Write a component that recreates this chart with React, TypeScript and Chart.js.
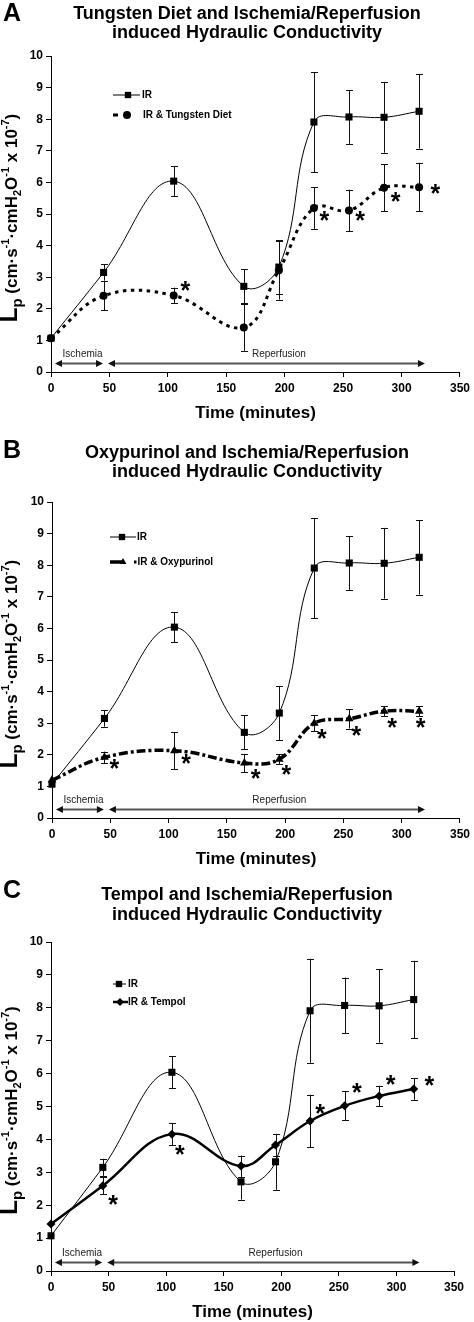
import React, { useEffect, useRef } from 'react';
import { Chart, registerables } from 'chart.js';

Chart.register(...registerables);

// ---------------- DATA ----------------
const times = [0, 45, 105, 165, 195, 225, 255, 285, 315];

const irMean = [1.07, 3.15, 6.04, 2.71, 3.32, 7.91, 8.07, 8.06, 8.25];
const irErr = [0, 0.26, 0.48, 0.54, 0.85, 1.58, 0.85, 1.12, 1.18];

const tungstenMean = [1.07, 2.41, 2.42, 1.41, 3.22, 5.19, 5.11, 5.83, 5.85];
const tungstenErr = [0, 0.46, 0.25, 0.74, 0.93, 0.66, 0.66, 0.75, 0.77];

const oxyMean = [1.2, 1.92, 2.13, 1.74, 1.86, 3.0, 3.14, 3.38, 3.38];
const oxyErr = [0, 0.18, 0.58, 0.29, 0.16, 0.25, 0.31, 0.16, 0.16];

const tempolMean = [1.43, 2.59, 4.16, 3.19, 3.83, 4.56, 5.02, 5.32, 5.53];
const tempolErr = [0, 0.26, 0.34, 0.32, 0.32, 0.8, 0.44, 0.31, 0.33];

// significance markers (x in minutes, y in Lp units)
const sigTungstenX = [115, 234, 264.5, 295, 329];
const sigTungstenY = [2.77, 5.0, 4.99, 5.58, 5.85];
const sigOxyX = [53.6, 115, 174.6, 201, 231.6, 261, 291.8, 316.3];
const sigOxyY = [1.76, 1.91, 1.44, 1.56, 2.72, 2.79, 3.05, 3.05];
const sigTempolX = [54, 112, 233.7, 265.6, 295, 328.7];
const sigTempolY = [2.21, 3.73, 4.98, 5.61, 5.84, 5.83];

const phaseLabels = ['Ischemia', 'Reperfusion'];
const phaseStart = [3.4, 48.8];
const phaseEnd = [44.5, 320];
const phaseLabelX = [27, 195];
const phaseArrowY = 0.27;
const phaseLabelY = 0.55;

const xTickStep = 50;
const xMax = 350;
const yTickStep = 1;
const yMax = 10;

const titlesA = ['Tungsten Diet and Ischemia/Reperfusion', 'induced Hydraulic Conductivity'];
const titlesB = ['Oxypurinol and Ischemia/Reperfusion', 'induced Hydraulic Conductivity'];
const titlesC = ['Tempol and Ischemia/Reperfusion', 'induced Hydraulic Conductivity'];
const xTitle = 'Time (minutes)';

// ---------------- STYLE ----------------
const FONT = '"Liberation Sans", Arial, Helvetica, sans-serif';
const W = 474;

type StyleKey = 'ir' | 'tungsten' | 'oxy' | 'tempol';
const seriesStyle: Record<StyleKey, any> = {
  ir: { borderWidth: 1, borderDash: [], pointStyle: 'rect', pointRadius: 5, tension: 0.4 },
  tungsten: { borderWidth: 3, borderDash: [3.5, 4.5], pointStyle: 'circle', pointRadius: 4, tension: 0.4 },
  oxy: { borderWidth: 3.5, borderDash: [9, 3, 3, 3], pointStyle: 'triangle', pointRadius: 5, tension: 0.4 },
  tempol: { borderWidth: 2.5, borderDash: [], pointStyle: 'rectRot', pointRadius: 4.5, tension: 0.4 },
};

type LegendItem = { label: string; style: StyleKey; line: [number, number]; mx: number; tx: number; y: number; dot?: number };

const panels = [
  {
    letter: 'A', titles: titlesA, top: 0, height: 435,
    area: { left: 51, right: 463, top: 56, bottom: 372 },
    titleY: [14, 33], letterY: 14,
    series: [
      { label: 'IR', mean: irMean, err: irErr, style: 'ir' as StyleKey },
      { label: 'IR & Tungsten Diet', mean: tungstenMean, err: tungstenErr, style: 'tungsten' as StyleKey },
    ],
    sigX: sigTungstenX, sigY: sigTungstenY,
    legend: [
      { label: 'IR', style: 'ir', line: [113, 140], mx: 128, tx: 142, y: 95 },
      { label: 'IR & Tungsten Diet', style: 'tungsten', line: [113, 118], mx: 127, tx: 143, y: 115 },
    ] as LegendItem[],
  },
  {
    letter: 'B', titles: titlesB, top: 435, height: 440,
    area: { left: 52, right: 464, top: 67, bottom: 383 },
    titleY: [18, 37], letterY: 16.5,
    series: [
      { label: 'IR', mean: irMean, err: irErr, style: 'ir' as StyleKey },
      { label: 'IR & Oxypurinol', mean: oxyMean, err: oxyErr, style: 'oxy' as StyleKey },
    ],
    sigX: sigOxyX, sigY: sigOxyY,
    legend: [
      { label: 'IR', style: 'ir', line: [110, 136], mx: 122, tx: 137, y: 102 },
      { label: 'IR & Oxypurinol', style: 'oxy', line: [110, 122], mx: 123, tx: 137.5, y: 127, dot: 135 },
    ] as LegendItem[],
  },
  {
    letter: 'C', titles: titlesC, top: 875, height: 447,
    area: { left: 51, right: 454, top: 67, bottom: 396 },
    titleY: [20, 40], letterY: 16,
    series: [
      { label: 'IR', mean: irMean, err: irErr, style: 'ir' as StyleKey },
      { label: 'IR & Tempol', mean: tempolMean, err: tempolErr, style: 'tempol' as StyleKey },
    ],
    sigX: sigTempolX, sigY: sigTempolY,
    legend: [
      { label: 'IR', style: 'ir', line: [113, 126], mx: 119, tx: 128, y: 109 },
      { label: 'IR & Tempol', style: 'tempol', line: [113, 128], mx: 120, tx: 128, y: 127 },
    ] as LegendItem[],
  },
];

// ---------------- DRAW HELPERS ----------------
function drawMarker(ctx: CanvasRenderingContext2D, style: StyleKey, x: number, y: number, r: number) {
  ctx.save();
  ctx.fillStyle = '#000';
  ctx.beginPath();
  if (style === 'ir') {
    const s = r * Math.SQRT1_2;
    ctx.rect(x - s, y - s, 2 * s, 2 * s);
  } else if (style === 'tungsten') {
    ctx.arc(x, y, r, 0, Math.PI * 2);
  } else if (style === 'oxy') {
    ctx.moveTo(x, y - r);
    ctx.lineTo(x + r * 0.87, y + r * 0.5);
    ctx.lineTo(x - r * 0.87, y + r * 0.5);
    ctx.closePath();
  } else {
    ctx.moveTo(x, y - r);
    ctx.lineTo(x + r, y);
    ctx.lineTo(x, y + r);
    ctx.lineTo(x - r, y);
    ctx.closePath();
  }
  ctx.fill();
  ctx.restore();
}

function drawYTitle(ctx: CanvasRenderingContext2D, bx: number, cy: number) {
  const parts = [
    { t: 'L', s: 24, d: 0 },
    { t: 'p', s: 15, d: 5 },
    { t: ' (cm·s', s: 17, d: 0 },
    { t: '-1', s: 11, d: -8 },
    { t: '·cmH', s: 17, d: 0 },
    { t: '2', s: 11, d: 4 },
    { t: 'O', s: 17, d: 0 },
    { t: '-1', s: 11, d: -8 },
    { t: ' x 10', s: 17, d: 0 },
    { t: '-7', s: 11, d: -8 },
    { t: ')', s: 17, d: 0 },
  ];
  ctx.save();
  ctx.translate(bx, cy);
  ctx.rotate(-Math.PI / 2);
  ctx.fillStyle = '#000';
  ctx.textBaseline = 'alphabetic';
  ctx.textAlign = 'left';
  let total = 0;
  const widths = parts.map((p) => {
    ctx.font = `bold ${p.s}px ${FONT}`;
    const w = ctx.measureText(p.t).width;
    total += w;
    return w;
  });
  let x = -total / 2;
  parts.forEach((p, i) => {
    ctx.font = `bold ${p.s}px ${FONT}`;
    ctx.fillText(p.t, x, p.d);
    x += widths[i];
  });
  ctx.restore();
}

function arrowHead(ctx: CanvasRenderingContext2D, x: number, y: number, dir: number) {
  ctx.beginPath();
  ctx.moveTo(x, y);
  ctx.lineTo(x - dir * 7, y - 3.5);
  ctx.lineTo(x - dir * 7, y + 3.5);
  ctx.closePath();
  ctx.fill();
}

const decorPlugin = {
  id: 'decor',
  beforeDatasetsDraw(chart: any) {
    const ctx: CanvasRenderingContext2D = chart.ctx;
    const yS = chart.scales.y;
    ctx.save();
    ctx.strokeStyle = '#111';
    ctx.lineWidth = 1;
    chart.data.datasets.forEach((ds: any, di: number) => {
      const meta = chart.getDatasetMeta(di);
      (ds.errors as number[]).forEach((e, i) => {
        if (!e) return;
        const pt = meta.data[i];
        const m = ds.data[i].y;
        const x = Math.round(pt.x) + 0.5;
        const y1 = yS.getPixelForValue(m + e);
        const y2 = yS.getPixelForValue(m - e);
        ctx.beginPath();
        ctx.moveTo(x, y1);
        ctx.lineTo(x, y2);
        ctx.moveTo(x - 3.5, Math.round(y1) + 0.5);
        ctx.lineTo(x + 3.5, Math.round(y1) + 0.5);
        ctx.moveTo(x - 3.5, Math.round(y2) + 0.5);
        ctx.lineTo(x + 3.5, Math.round(y2) + 0.5);
        ctx.stroke();
      });
    });
    ctx.restore();
  },
  afterDraw(chart: any, _args: any, opts: any) {
    const p = opts.panel;
    if (!p) return;
    const ctx: CanvasRenderingContext2D = chart.ctx;
    const xS = chart.scales.x;
    const yS = chart.scales.y;
    const area = chart.chartArea;
    ctx.save();
    ctx.fillStyle = '#000';

    // panel letter
    ctx.font = `bold 25px ${FONT}`;
    ctx.textAlign = 'left';
    ctx.textBaseline = 'middle';
    ctx.fillText(p.letter, 3, p.letterY);

    // titles
    ctx.font = `bold 18px ${FONT}`;
    ctx.textAlign = 'center';
    p.titles.forEach((t: string, i: number) => ctx.fillText(t, 247, p.titleY[i]));

    // x title
    ctx.font = `bold 17px ${FONT}`;
    ctx.textBaseline = 'middle';
    ctx.fillText(xTitle, (area.left + area.right) / 2, area.bottom + 41);

    // y title
    drawYTitle(ctx, 17, (area.top + area.bottom) / 2 + 4);

    // phases
    ctx.strokeStyle = '#555';
    ctx.fillStyle = '#111';
    ctx.lineWidth = 2;
    const ay = Math.round(yS.getPixelForValue(phaseArrowY)) + 0.5;
    phaseLabels.forEach((lab, i) => {
      const x1 = xS.getPixelForValue(phaseStart[i]);
      const x2 = xS.getPixelForValue(phaseEnd[i]);
      ctx.beginPath();
      ctx.moveTo(x1 + 4, ay);
      ctx.lineTo(x2 - 4, ay);
      ctx.stroke();
      arrowHead(ctx, x1, ay, -1);
      arrowHead(ctx, x2, ay, 1);
      ctx.font = `10px ${FONT}`;
      ctx.textAlign = 'center';
      ctx.textBaseline = 'middle';
      ctx.fillStyle = '#222';
      ctx.fillText(lab, xS.getPixelForValue(phaseLabelX[i]), yS.getPixelForValue(phaseLabelY));
      ctx.fillStyle = '#111';
    });

    // significance asterisks
    ctx.fillStyle = '#000';
    const as = 25;
    ctx.font = `bold ${as}px ${FONT}`;
    ctx.textAlign = 'center';
    ctx.textBaseline = 'alphabetic';
    p.sigX.forEach((sx: number, i: number) => {
      const px = xS.getPixelForValue(sx);
      const py = yS.getPixelForValue(p.sigY[i]);
      ctx.fillText('*', px, py + 0.58 * as);
    });

    // legend
    p.legend.forEach((it: LegendItem) => {
      const st = seriesStyle[it.style];
      ctx.save();
      ctx.strokeStyle = '#000';
      ctx.lineWidth = st.borderWidth;
      ctx.beginPath();
      ctx.moveTo(it.line[0], it.y);
      ctx.lineTo(it.line[1], it.y);
      ctx.stroke();
      ctx.restore();
      drawMarker(ctx, it.style, it.mx, it.y, it.style === 'ir' ? 4.5 : 4);
      if (it.dot) {
        ctx.fillRect(it.dot - 1, it.y - 1.5, 2.5, 3);
      }
      ctx.font = `bold 10px ${FONT}`;
      ctx.textAlign = 'left';
      ctx.textBaseline = 'middle';
      ctx.fillStyle = '#000';
      ctx.fillText(it.label, it.tx, it.y);
    });

    ctx.restore();
  },
};

function buildConfig(p: any): any {
  const H = p.height;
  const area = p.area;
  const datasets = p.series.map((s: any) => {
    const st = seriesStyle[s.style as StyleKey];
    return {
      label: s.label,
      data: times.map((t, i) => ({ x: t, y: s.mean[i] })),
      errors: s.err,
      borderColor: '#000',
      backgroundColor: '#000',
      borderWidth: st.borderWidth,
      borderDash: st.borderDash,
      borderCapStyle: 'butt',
      pointStyle: st.pointStyle,
      pointRadius: st.pointRadius,
      pointBorderWidth: 0,
      pointBackgroundColor: '#000',
      pointBorderColor: '#000',
      tension: st.tension,
      cubicInterpolationMode: 'default',
      fill: false,
      clip: false,
    };
  });
  const tickFont = { family: FONT, size: 12, weight: 'bold' };
  return {
    type: 'line',
    data: { datasets },
    plugins: [decorPlugin],
    options: {
      responsive: false,
      animation: false,
      devicePixelRatio: 1,
      layout: { padding: { left: 0, top: area.top, right: W - area.right, bottom: 0 } },
      plugins: {
        legend: { display: false },
        tooltip: { enabled: false },
        title: { display: false },
        decor: { panel: p },
      },
      scales: {
        x: {
          type: 'linear',
          min: 0,
          max: xMax,
          ticks: { stepSize: xTickStep, color: '#000', font: tickFont, padding: 4, maxRotation: 0, autoSkip: false },
          grid: { display: true, drawOnChartArea: false, drawTicks: true, tickLength: 5, color: '#000', lineWidth: 1 },
          border: { display: true, color: '#000', width: 1 },
          afterFit: (s: any) => { s.height = H - area.bottom; },
        },
        y: {
          type: 'linear',
          min: 0,
          max: yMax,
          ticks: { stepSize: yTickStep, color: '#000', font: tickFont, padding: 3, autoSkip: false },
          grid: { display: true, drawOnChartArea: false, drawTicks: true, tickLength: 5, color: '#000', lineWidth: 1 },
          border: { display: true, color: '#000', width: 1 },
          afterFit: (s: any) => { s.width = area.left; },
        },
      },
    },
  };
}

export default function App() {
  const r0 = useRef<HTMLCanvasElement>(null);
  const r1 = useRef<HTMLCanvasElement>(null);
  const r2 = useRef<HTMLCanvasElement>(null);
  const refs = [r0, r1, r2];
  useEffect(() => {
    const charts = panels.map((p, i) => new Chart(refs[i].current as HTMLCanvasElement, buildConfig(p)));
    return () => charts.forEach((c) => c.destroy());
  }, []);
  return (
    <div style={{ position: 'absolute', left: 0, top: 0, width: W, height: 1322, background: '#fff' }}>
      {panels.map((p, i) => (
        <canvas
          key={p.letter}
          ref={refs[i]}
          width={W}
          height={p.height}
          style={{ position: 'absolute', left: 0, top: p.top, width: W, height: p.height }}
        />
      ))}
    </div>
  );
}
